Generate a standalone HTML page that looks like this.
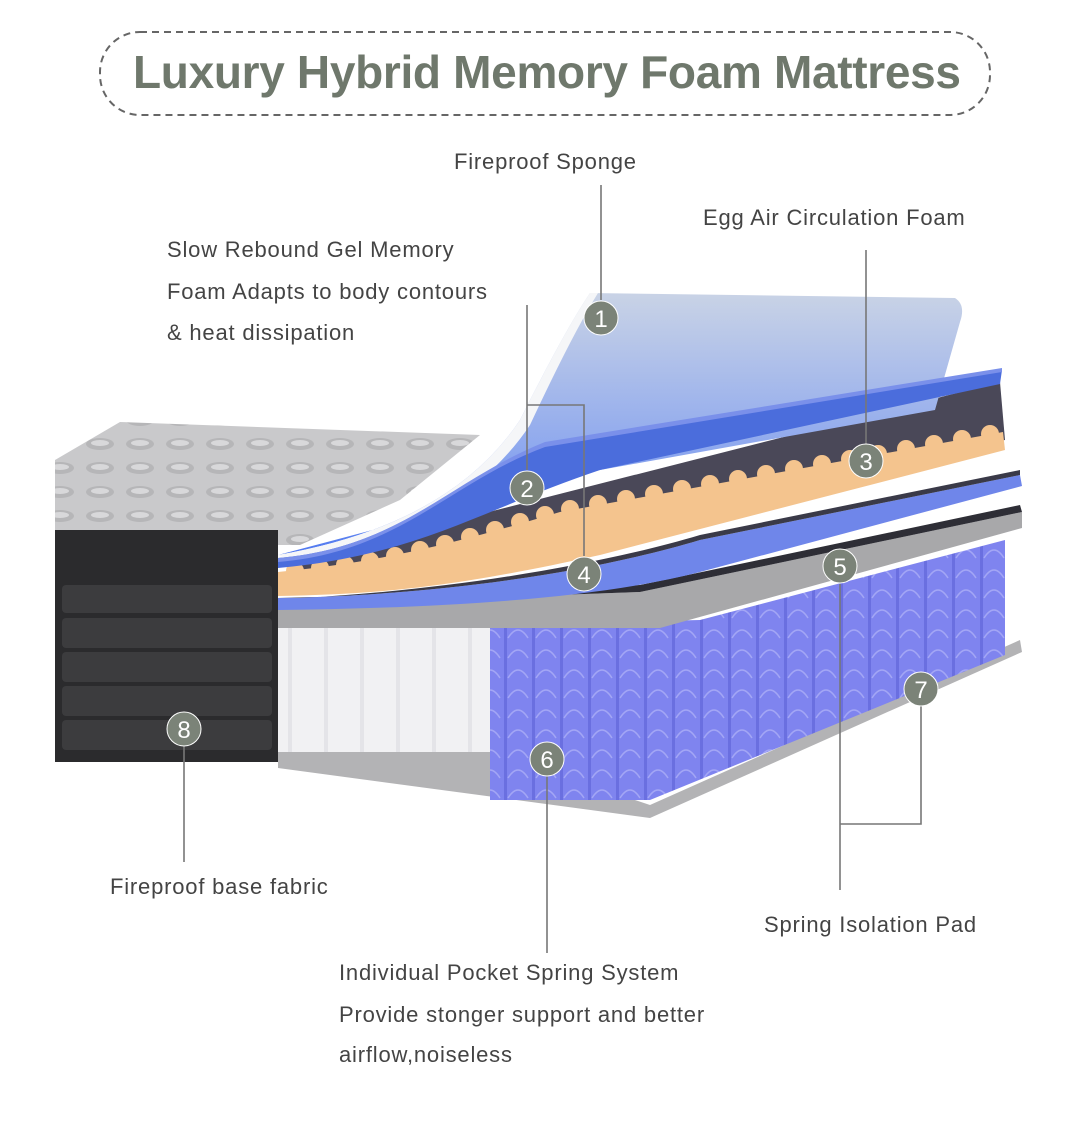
<!DOCTYPE html>
<html><head><meta charset="utf-8"><style>
body{margin:0;background:#fff;width:1076px;height:1123px;overflow:hidden}
svg{display:block}
text{font-family:"Liberation Sans",sans-serif}
</style></head><body>
<svg width="1076" height="1123" viewBox="0 0 1076 1123">
<defs>
<linearGradient id="g1" x1="0" y1="0" x2="0" y2="1"><stop offset="0" stop-color="#c9d3e6"/><stop offset="0.6" stop-color="#8ea8ee"/><stop offset="1" stop-color="#4f78f0"/></linearGradient>
<pattern id="sp" width="28" height="20" patternUnits="userSpaceOnUse"><rect width="28" height="20" fill="#7f84ef"/><rect x="0" width="3" height="20" fill="#6a6fe0"/><path d="M4,18 Q14,2 24,18" stroke="#a3a6f5" fill="none" stroke-width="1.5"/></pattern>
<pattern id="ws" width="36" height="20" patternUnits="userSpaceOnUse"><rect width="36" height="20" fill="#f1f1f3"/><rect x="0" width="4" height="20" fill="#e4e4e8"/></pattern>
<pattern id="qt" width="40" height="24" patternUnits="userSpaceOnUse"><rect width="40" height="24" fill="#c9c9cb"/><ellipse cx="20" cy="12" rx="14" ry="6" fill="#b6b6b8"/><ellipse cx="20" cy="11" rx="9" ry="3" fill="#d8d8da"/></pattern>
</defs>
<rect x="100" y="32" width="890" height="83" rx="40" fill="none" stroke="#666" stroke-width="2" stroke-dasharray="7,5"/>
<text x="547" y="88" text-anchor="middle" font-size="46" font-weight="bold" fill="#6f786c" textLength="828">Luxury Hybrid Memory Foam Mattress</text>
<g font-size="22" fill="#444" letter-spacing="0.8">
<text x="454" y="169">Fireproof Sponge</text>
<text x="703" y="225">Egg Air Circulation Foam</text>
<text x="167" y="257">Slow Rebound Gel Memory</text>
<text x="167" y="299">Foam Adapts to body contours</text>
<text x="167" y="340">&amp; heat dissipation</text>
<text x="110" y="894">Fireproof base fabric</text>
<text x="764" y="932">Spring Isolation Pad</text>
<text x="339" y="980">Individual Pocket Spring System</text>
<text x="339" y="1022">Provide stonger support and better</text>
<text x="339" y="1062">airflow,noiseless</text>
</g>
<path d="M55,460 L120,422 L480,435 L400,500 L300,545 L55,545 Z" fill="url(#qt)"/>
<rect x="55" y="530" width="223" height="232" fill="#2b2b2d"/>
<g fill="#3c3c3e"><rect x="62" y="585" width="210" height="28" rx="4"/><rect x="62" y="618" width="210" height="30" rx="4"/><rect x="62" y="652" width="210" height="30" rx="4"/><rect x="62" y="686" width="210" height="30" rx="4"/><rect x="62" y="720" width="210" height="30" rx="4"/></g>
<path d="M278,750 L490,752 L650,805 L1020,640 L1022,652 L650,818 L278,768 Z" fill="#b3b3b5"/>
<rect x="278" y="620" width="212" height="132" fill="url(#ws)"/>
<path d="M490,625 L700,620 L1005,540 L1005,655 L650,800 L490,800 Z" fill="url(#sp)"/>
<path d="M278,605 L640,592 L1022,512 L1022,528 L660,628 L278,628 Z" fill="#a8a8aa"/>
<path d="M300,605 L640,585 L1020,505 L1022,512 L640,592 L278,605 Z" fill="#2e2e36"/>
<path d="M278,598 C450,595 600,570 700,540 L1020,475 L1022,486 L700,572 C600,598 450,608 278,610 Z" fill="#6f86ea"/>
<path d="M300,598 C450,590 600,565 700,535 L1020,470 L1020,475 L700,540 C600,570 450,595 278,598 Z" fill="#3a3a48"/>
<path d="M300,560 L1000,382 L1005,440 L300,575 Z" fill="#4a4858"/>
<path d="M278,572 C380,562 450,545 560,512 L1003,432 L1005,450 L600,555 C450,588 380,594 278,596 Z" fill="#f4c48e"/>
<g fill="#f4c48e">
<circle cx="295" cy="571" r="9"/><circle cx="320" cy="568" r="9"/><circle cx="345" cy="565" r="9"/><circle cx="370" cy="561" r="9"/><circle cx="395" cy="556" r="9"/><circle cx="420" cy="550" r="9"/><circle cx="445" cy="544" r="9"/><circle cx="470" cy="537" r="9"/><circle cx="495" cy="530" r="9"/><circle cx="520" cy="522" r="9"/><circle cx="545" cy="515" r="9"/><circle cx="570" cy="509" r="9"/><circle cx="598" cy="504" r="9"/><circle cx="626" cy="499" r="9"/><circle cx="654" cy="494" r="9"/><circle cx="682" cy="489" r="9"/><circle cx="710" cy="484" r="9"/><circle cx="738" cy="479" r="9"/><circle cx="766" cy="474" r="9"/><circle cx="794" cy="469" r="9"/><circle cx="822" cy="464" r="9"/><circle cx="850" cy="459" r="9"/><circle cx="878" cy="454" r="9"/><circle cx="906" cy="449" r="9"/><circle cx="934" cy="444" r="9"/><circle cx="962" cy="439" r="9"/><circle cx="990" cy="434" r="9"/>
</g>
<path d="M278,555 Q450,525 520,420 Q565,330 590,293 L955,298 Q966,305 960,322 L935,410 L600,470 Z" fill="url(#g1)"/>
<path d="M278,555 Q450,525 520,420 Q565,330 590,293 L598,293 Q572,335 530,425 Q460,530 290,560 Z" fill="#f5f6f8"/>
<path d="M278,558 C400,548 450,480 545,445 L1002,370 L1000,384 L600,470 C480,510 420,555 278,568 Z" fill="#4b6ddc"/>
<path d="M278,558 C400,548 450,480 545,442 L1002,368 L1002,372 L545,447 C450,482 400,552 278,562 Z" fill="#7a90ea"/>
<g stroke="#777" stroke-width="1.6" fill="none">
<line x1="601" y1="185" x2="601" y2="300"/>
<line x1="527" y1="305" x2="527" y2="470"/>
<polyline points="527,405 584,405 584,556"/>
<line x1="866" y1="250" x2="866" y2="444"/>
<line x1="840" y1="584" x2="840" y2="890"/>
<polyline points="921,706 921,824 840,824"/>
<line x1="547" y1="776" x2="547" y2="953"/>
<line x1="184" y1="746" x2="184" y2="862"/>
</g>
<g fill="#7b8378" stroke="#fff" stroke-width="1"><circle cx="601" cy="318" r="17"/><circle cx="527" cy="488" r="17"/><circle cx="866" cy="461" r="17"/><circle cx="584" cy="574" r="17"/><circle cx="840" cy="566" r="17"/><circle cx="547" cy="759" r="17"/><circle cx="921" cy="689" r="17"/><circle cx="184" cy="729" r="17"/></g>
<g fill="#fff" font-size="24" text-anchor="middle"><text x="601" y="327">1</text><text x="527" y="497">2</text><text x="866" y="470">3</text><text x="584" y="583">4</text><text x="840" y="575">5</text><text x="547" y="768">6</text><text x="921" y="698">7</text><text x="184" y="738">8</text></g>
</svg>
</body></html>
